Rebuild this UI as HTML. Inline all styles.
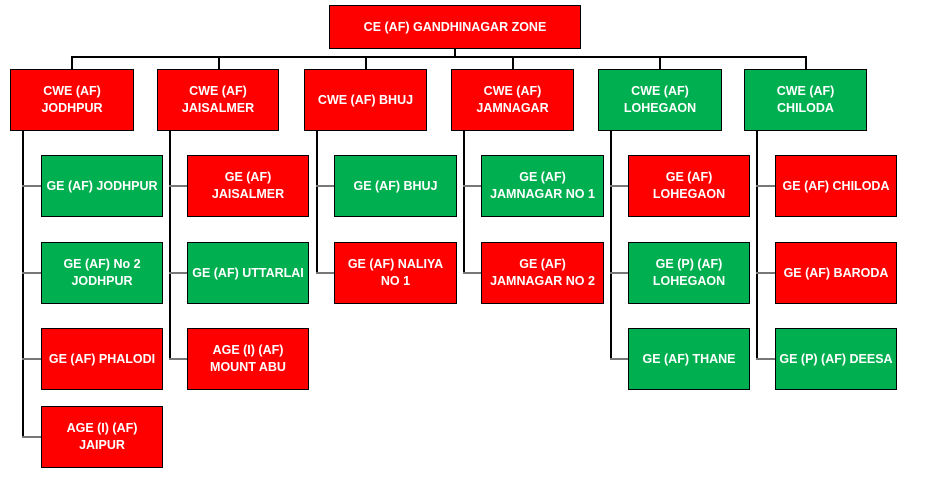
<html><head><style>
body{margin:0;width:929px;height:485px;background:#fff;position:relative;font-family:"Liberation Sans",sans-serif;overflow:hidden}
.b{position:absolute;box-sizing:border-box;border:1.5px solid #000;color:#fff;font-weight:bold;font-size:12.5px;display:flex;align-items:center;justify-content:center;text-align:center;line-height:17px}
.r{background:#ff0000}.g{background:#00b050}
.l{position:absolute;background:#000}
</style></head><body>
<div class="b r" style="left:329px;top:5px;width:252px;height:44px">CE (AF) GANDHINAGAR ZONE</div>
<div class="l" style="left:454px;top:48px;width:1.5px;height:9px"></div>
<div class="l" style="left:71px;top:56px;width:736px;height:1.5px"></div>

<div class="l" style="left:71px;top:56px;width:1.5px;height:14px"></div>
<div class="l" style="left:218px;top:56px;width:1.5px;height:14px"></div>
<div class="l" style="left:365px;top:56px;width:1.5px;height:14px"></div>
<div class="l" style="left:512px;top:56px;width:1.5px;height:14px"></div>
<div class="l" style="left:659px;top:56px;width:1.5px;height:14px"></div>
<div class="l" style="left:805px;top:56px;width:1.5px;height:14px"></div>

<div class="b r" style="left:10px;top:69px;width:124px;height:62px">CWE (AF)<br>JODHPUR</div>
<div class="b r" style="left:157px;top:69px;width:122px;height:62px">CWE (AF)<br>JAISALMER</div>
<div class="b r" style="left:304px;top:69px;width:123px;height:62px">CWE (AF) BHUJ</div>
<div class="b r" style="left:451px;top:69px;width:123px;height:62px">CWE (AF)<br>JAMNAGAR</div>
<div class="b g" style="left:598px;top:69px;width:124px;height:62px">CWE (AF)<br>LOHEGAON</div>
<div class="b g" style="left:744px;top:69px;width:123px;height:62px">CWE (AF)<br>CHILODA</div>

<!-- trunks -->
<div class="l" style="left:22px;top:130px;width:1.5px;height:307px"></div>
<div class="l" style="left:169px;top:130px;width:1.5px;height:229px"></div>
<div class="l" style="left:316px;top:130px;width:1.5px;height:143px"></div>
<div class="l" style="left:463px;top:130px;width:1.5px;height:143px"></div>
<div class="l" style="left:610px;top:130px;width:1.5px;height:229px"></div>
<div class="l" style="left:756px;top:130px;width:1.5px;height:229px"></div>
<!-- branches -->
<div class="l" style="left:22px;top:185px;width:20px;height:1.5px;background:#777"></div>
<div class="l" style="left:22px;top:272px;width:20px;height:1.5px;background:#777"></div>
<div class="l" style="left:22px;top:358px;width:20px;height:1.5px;background:#777"></div>
<div class="l" style="left:22px;top:436px;width:20px;height:1.5px;background:#777"></div>
<div class="l" style="left:169px;top:185px;width:20px;height:1.5px;background:#777"></div>
<div class="l" style="left:169px;top:272px;width:20px;height:1.5px;background:#777"></div>
<div class="l" style="left:169px;top:358px;width:20px;height:1.5px;background:#777"></div>
<div class="l" style="left:316px;top:185px;width:20px;height:1.5px;background:#777"></div>
<div class="l" style="left:316px;top:272px;width:20px;height:1.5px;background:#777"></div>
<div class="l" style="left:463px;top:185px;width:20px;height:1.5px;background:#777"></div>
<div class="l" style="left:463px;top:272px;width:20px;height:1.5px;background:#777"></div>
<div class="l" style="left:610px;top:185px;width:20px;height:1.5px;background:#777"></div>
<div class="l" style="left:610px;top:272px;width:20px;height:1.5px;background:#777"></div>
<div class="l" style="left:610px;top:358px;width:20px;height:1.5px;background:#777"></div>
<div class="l" style="left:756px;top:185px;width:20px;height:1.5px;background:#777"></div>
<div class="l" style="left:756px;top:272px;width:20px;height:1.5px;background:#777"></div>
<div class="l" style="left:756px;top:358px;width:20px;height:1.5px;background:#777"></div>

<div class="b g" style="left:41px;top:155px;width:122px;height:62px">GE (AF) JODHPUR</div>
<div class="b g" style="left:41px;top:242px;width:122px;height:62px">GE (AF) No 2<br>JODHPUR</div>
<div class="b r" style="left:41px;top:328px;width:122px;height:62px">GE (AF) PHALODI</div>
<div class="b r" style="left:41px;top:406px;width:122px;height:62px">AGE (I) (AF)<br>JAIPUR</div>

<div class="b r" style="left:187px;top:155px;width:122px;height:62px">GE (AF)<br>JAISALMER</div>
<div class="b g" style="left:187px;top:242px;width:122px;height:62px">GE (AF) UTTARLAI</div>
<div class="b r" style="left:187px;top:328px;width:122px;height:62px">AGE (I) (AF)<br>MOUNT ABU</div>

<div class="b g" style="left:334px;top:155px;width:123px;height:62px">GE (AF) BHUJ</div>
<div class="b r" style="left:334px;top:242px;width:123px;height:62px">GE (AF) NALIYA<br>NO 1</div>

<div class="b g" style="left:481px;top:155px;width:123px;height:62px">GE (AF)<br>JAMNAGAR NO 1</div>
<div class="b r" style="left:481px;top:242px;width:123px;height:62px">GE (AF)<br>JAMNAGAR NO 2</div>

<div class="b r" style="left:628px;top:155px;width:122px;height:62px">GE (AF)<br>LOHEGAON</div>
<div class="b g" style="left:628px;top:242px;width:122px;height:62px">GE (P) (AF)<br>LOHEGAON</div>
<div class="b g" style="left:628px;top:328px;width:122px;height:62px">GE (AF) THANE</div>

<div class="b r" style="left:775px;top:155px;width:122px;height:62px">GE (AF) CHILODA</div>
<div class="b r" style="left:775px;top:242px;width:122px;height:62px">GE (AF) BARODA</div>
<div class="b g" style="left:775px;top:328px;width:122px;height:62px">GE (P) (AF) DEESA</div>
</body></html>
